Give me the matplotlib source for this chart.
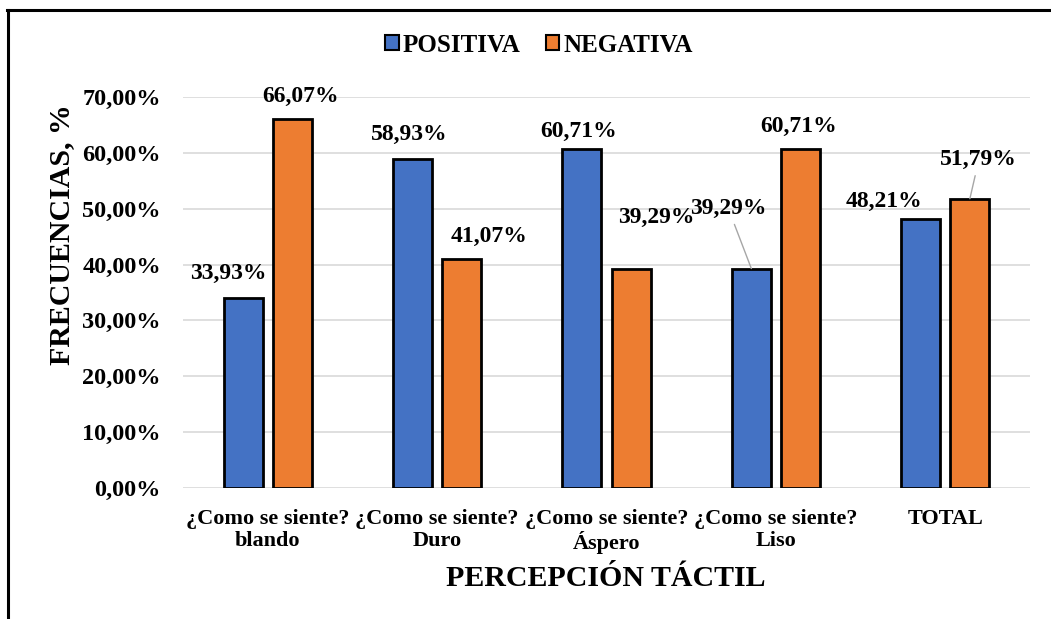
import matplotlib
matplotlib.use("Agg")
import matplotlib.pyplot as plt
from matplotlib.lines import Line2D
import numpy as np

categories = ["¿Como se siente?\nblando", "¿Como se siente?\nDuro",
              "¿Como se siente?\nÁspero", "¿Como se siente?\nLiso", "TOTAL"]
positiva = [33.93, 58.93, 60.71, 39.29, 48.21]
negativa = [66.07, 41.07, 39.29, 60.71, 51.79]
series_names = ["POSITIVA", "NEGATIVA"]
yticks = [0, 10, 20, 30, 40, 50, 60, 70]

# label offsets (pixels) relative to bar top, and whether a leader line is drawn
pos_offsets = [(-15, 25), (-3, 24), (-3, 17), (-23, 60), (-37, 17)]
neg_offsets = [(8, 22), (27, 22), (25, 51), (-2, 22), (9, 39)]
pos_leader = [False, False, False, True, False]
neg_leader = [False, False, False, False, True]

plt.rcParams['font.family'] = ['Liberation Serif', 'DejaVu Serif']
plt.rcParams['font.weight'] = 'bold'

W, H = 1051, 619
fig = plt.figure(figsize=(W / 100, H / 100), dpi=100)
ax = fig.add_axes([183 / W, 1 - 488 / H, (1030 - 183) / W, (488 - 97) / H])

blue = "#4472C4"
orange = "#ED7D31"
x = np.arange(len(categories))
bw = 0.23
off = 0.145
ax.bar(x - off, positiva, bw, color=blue, edgecolor="black", linewidth=2, zorder=3)
ax.bar(x + off, negativa, bw, color=orange, edgecolor="black", linewidth=2, zorder=3)

ax.set_xlim(-0.5, len(categories) - 0.5)
ax.set_ylim(0, 70)
ax.set_yticks(yticks)
ax.set_yticklabels([f"{v:.2f}%".replace(".", ",") for v in yticks], fontsize=17.5, fontweight='bold')
ax.set_xticks(x)
ax.set_xticklabels(categories, fontsize=16, fontweight='bold', linespacing=1.12)
ax.tick_params(axis='x', length=0, pad=15)
ax.tick_params(axis='y', length=0, pad=16)
ax.grid(axis='y', color="#d9d9d9", linewidth=1.2, zorder=0)
for s in ax.spines.values():
    s.set_visible(False)


def fmt(v):
    return f"{v:.2f}%".replace(".", ",")


def label(xs, vals, offs, leaders):
    for xi, v, (dx, dy), ld in zip(xs, vals, offs, leaders):
        kw = {}
        if ld:
            kw['arrowprops'] = dict(arrowstyle='-', color='#a6a6a6', lw=1, shrinkA=2, shrinkB=0)
        ax.annotate(fmt(v), xy=(xi, v), xytext=(dx, dy), textcoords='offset pixels',
                    ha='center', va='center', fontsize=17, fontweight='bold',
                    annotation_clip=False, zorder=5, **kw)


label(x - off, positiva, pos_offsets, pos_leader)
label(x + off, negativa, neg_offsets, neg_leader)

handles = [plt.Rectangle((0, 0), 1, 1, facecolor=blue, edgecolor='black', linewidth=1.5),
           plt.Rectangle((0, 0), 1, 1, facecolor=orange, edgecolor='black', linewidth=1.5)]
fig.legend(handles, series_names, loc='center', bbox_to_anchor=(539 / W, 1 - 45 / H),
           ncol=2, frameon=False, prop={'weight': 'bold', 'size': 18},
           handlelength=0.55, handleheight=0.55, handletextpad=0.15, columnspacing=1.0)

fig.text(62 / W, 1 - 235 / H, "FRECUENCIAS, %", rotation=90, ha='center', va='center',
         fontsize=21.5, fontweight='bold')
fig.text(606 / W, 1 - 578 / H, "PERCEPCIÓN TÁCTIL", ha='center', va='center',
         fontsize=21.5, fontweight='bold')

# figure border (left and top edges visible)
fig.add_artist(Line2D([7.5 / W, 7.5 / W], [0, 1 - 10 / H], color='black', lw=2.2,
                      transform=fig.transFigure))
fig.add_artist(Line2D([6.5 / W, 1], [1 - 10 / H, 1 - 10 / H], color='black', lw=2.2,
                      transform=fig.transFigure))

fig.savefig("out.png", dpi=100, facecolor='white')
